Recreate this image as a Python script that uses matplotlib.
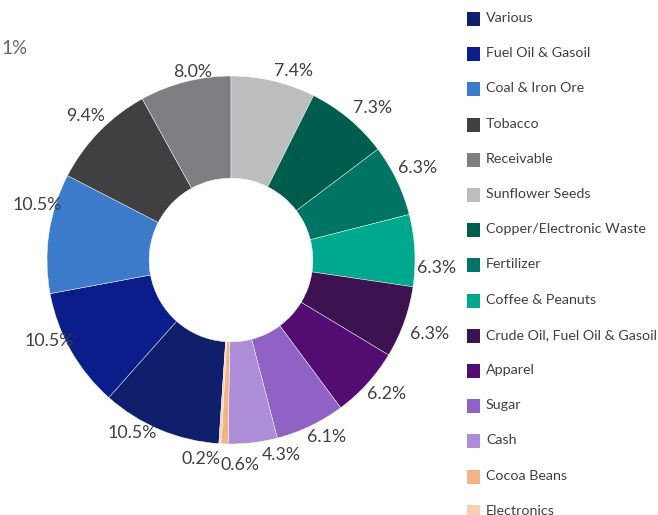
import matplotlib
matplotlib.use("Agg")
import matplotlib.pyplot as plt
from matplotlib.patches import Rectangle
import numpy as np

categories = ["Various", "Fuel Oil & Gasoil", "Coal & Iron Ore", "Tobacco", "Receivable",
              "Sunflower Seeds", "Copper/Electronic Waste", "Fertilizer", "Coffee & Peanuts",
              "Crude Oil, Fuel Oil & Gasoil", "Apparel", "Sugar", "Cash", "Cocoa Beans", "Electronics"]
values = [10.5, 10.5, 10.5, 9.4, 8.0, 7.4, 7.3, 6.3, 6.3, 6.3, 6.2, 6.1, 4.3, 0.6, 0.2]
labels = ["10.5%", "10.5%", "10.5%", "9.4%", "8.0%", "7.4%", "7.3%", "6.3%", "6.3%",
          "6.3%", "6.2%", "6.1%", "4.3%", "0.6%", "0.2%"]
colors = ["#0f1f6b", "#0b1d8a", "#3c7bca", "#404042", "#7e7f83", "#bcbdbf", "#005c4c",
          "#007565", "#00a88e", "#3c1350", "#520c72", "#9062c6", "#ad8dd7", "#f2b385", "#f8cfb0"]

# label style tweaks (alignment and pixel offsets)
label_ha = ["right", "right", "right", "right", "left", "left", "left", "left", "left",
            "left", "left", "left", "left", "left", "right"]
label_off = [(2, -9), (15, -16), (27, -26), (16, -6), (-9, 4), (-3, 3), (-5, 0), (-11, -6),
             (-12, 18), (-7, 7), (-10, 1), (-9, -1), (7, -1), (-4, 7), (1, 2)]

W, H = 658, 515
fig = plt.figure(figsize=(W / 100, H / 100), dpi=100)

cx, cy, R = 231, 260, 184
half = 250
ax = fig.add_axes([(cx - half) / W, (H - cy - half) / H, 2 * half / W, 2 * half / H])
lim = half / R
ax.set_xlim(-lim, lim)
ax.set_ylim(-lim, lim)
ax.set_aspect("equal")
ax.axis("off")

total = sum(values)
start = 90 + 360 * sum(values[:5]) / total
wedges, _ = ax.pie(values, colors=colors, startangle=start, counterclock=False,
                   radius=1.0, wedgeprops=dict(width=0.555, edgecolor="white", linewidth=0.3),
                   labels=None)
ax.set_xlim(-lim, lim)
ax.set_ylim(-lim, lim)

ld = 1.075
for w, lab, ha, (dx, dy) in zip(wedges, labels, label_ha, label_off):
    ang = np.deg2rad((w.theta1 + w.theta2) / 2)
    x, y = ld * np.cos(ang), ld * np.sin(ang)
    ax.annotate(lab, (x, y), xytext=(dx, -dy), textcoords="offset pixels",
                ha=ha, va="center", fontsize=12.8, color="#404040", family="Lato",
                annotation_clip=False)

# stray cut-off label at top left
fig.text(28 / W, 1 - 48 / H, "1%", ha="right", va="center", fontsize=13.5,
         color="#666666", family="Lato")

# legend
for i, (cat, col) in enumerate(zip(categories, colors)):
    yc = 19 + i * 35.2
    fig.add_artist(Rectangle((467 / W, 1 - (yc + 7) / H), 13 / W, 14 / H,
                             transform=fig.transFigure, facecolor=col, edgecolor="none"))
    fig.text(486 / W, 1 - (yc - 1) / H, cat, ha="left", va="center", fontsize=10.3,
             color="#404040", family="Lato")

fig.savefig("out.png", dpi=100)
